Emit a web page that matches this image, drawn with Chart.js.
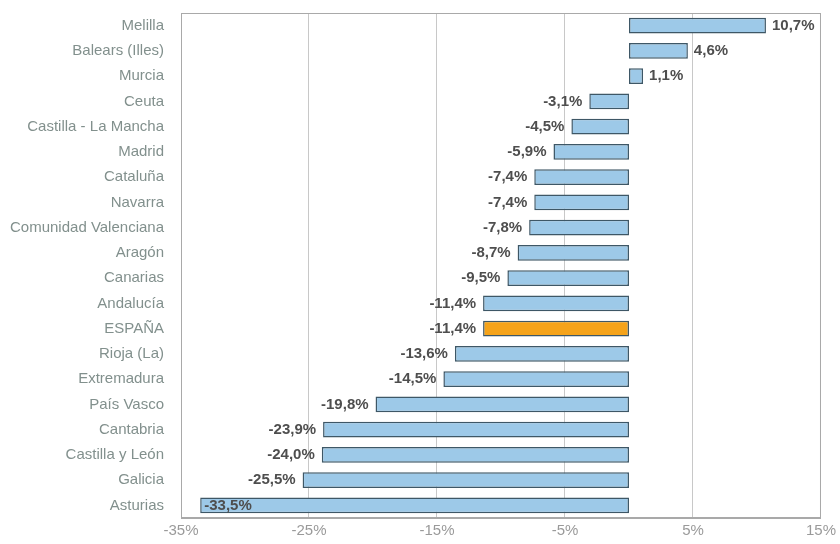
<!DOCTYPE html>
<html>
<head>
<meta charset="utf-8">
<script src="https://cdn.jsdelivr.net/npm/chart.js@4.4.1/dist/chart.umd.min.js"></script>
<style>
  html, body { margin: 0; padding: 0; background: #ffffff; }
  #wrap { width: 840px; height: 544px; }
</style>
</head>
<body>
<div id="wrap"><canvas id="chart1"></canvas></div>
<script>
const regions = [
    'Melilla', 'Balears (Illes)', 'Murcia', 'Ceuta', 'Castilla - La Mancha',
    'Madrid', 'Cataluña', 'Navarra', 'Comunidad Valenciana', 'Aragón',
    'Canarias', 'Andalucía', 'ESPAÑA', 'Rioja (La)', 'Extremadura',
    'País Vasco', 'Cantabria', 'Castilla y León', 'Galicia', 'Asturias'
];
const changes = [
    10.7, 4.6, 1.1, -3.1, -4.5,
    -5.9, -7.4, -7.4, -7.8, -8.7,
    -9.5, -11.4, -11.4, -13.6, -14.5,
    -19.8, -23.9, -24.0, -25.5, -33.5
];
const tickValues = [-35, -25, -15, -5, 5, 15];
const highlighted = 'ESPAÑA';

const fmt = (v) => v.toFixed(1).replace('.', ',') + '%';

// frame around the plot area
const frame = {
    id: 'frame',
    afterDraw(chart) {
        const { ctx, chartArea } = chart;
        ctx.save();
        ctx.strokeStyle = '#a9a9a9';
        ctx.lineWidth = 1;
        ctx.strokeRect(chartArea.left + 0.5, chartArea.top + 0.5,
            chartArea.right - chartArea.left - 1, chartArea.bottom - chartArea.top - 1);
        ctx.restore();
    }
};

// value labels next to the bar ends
const valueLabels = {
    id: 'valueLabels',
    afterDatasetsDraw(chart) {
        const { ctx, chartArea } = chart;
        const bars = chart.getDatasetMeta(0).data;
        ctx.save();
        ctx.font = 'bold 15px "Liberation Sans", Arial, sans-serif';
        ctx.fillStyle = '#4e4e4e';
        ctx.textBaseline = 'middle';
        bars.forEach((bar, i) => {
            const v = changes[i];
            const text = fmt(v);
            const w = ctx.measureText(text).width;
            if (v >= 0) {
                ctx.textAlign = 'left';
                ctx.fillText(text, bar.x + 6, bar.y);
            } else if (bar.x - 7 - w < chartArea.left) {
                // no room on the left: put it inside the bar
                ctx.textAlign = 'left';
                ctx.fillText(text, bar.x + 4, bar.y);
            } else {
                ctx.textAlign = 'right';
                ctx.fillText(text, bar.x - 7, bar.y);
            }
        });
        ctx.restore();
    }
};

new Chart(document.getElementById('chart1'), {
    type: 'bar',
    data: {
        labels: regions,
        datasets: [{
            data: changes,
            backgroundColor: regions.map((r) => r === highlighted ? '#f5a31a' : '#9dc9e8'),
            borderColor: '#3e5766',
            borderWidth: 1.5,
            borderSkipped: false,
            barPercentage: 0.62,
            categoryPercentage: 1,
        }]
    },
    options: {
        indexAxis: 'y',
        responsive: true,
        maintainAspectRatio: false,
        animation: false,
        layout: {
            padding: { top: 13, right: 16, left: 0, bottom: 0 }
        },
        plugins: {
            legend: { display: false },
            tooltip: { enabled: false },
        },
        scales: {
            x: {
                min: -35,
                max: 15,
                afterBuildTicks: (scale) => {
                    scale.ticks = tickValues.map((v) => ({ value: v }));
                },
                afterFit: (scale) => { scale.height = 26; },
                ticks: {
                    color: '#9a9a9a',
                    font: { family: '"Liberation Sans", Arial, sans-serif', size: 15 },
                    padding: 4,
                    maxRotation: 0,
                    callback: (v) => v + '%',
                },
                grid: {
                    color: '#c8c8c8',
                    drawTicks: false,
                },
                border: { color: '#a9a9a9' },
            },
            y: {
                afterFit: (scale) => {
                    scale.width = 181;
                    scale.paddingTop = 0;
                    scale.paddingBottom = 0;
                },
                ticks: {
                    color: '#82908d',
                    font: { family: '"Liberation Sans", Arial, sans-serif', size: 15 },
                    padding: 9,
                    autoSkip: false,
                },
                grid: { display: false },
                border: { color: '#a9a9a9' },
            },
        },
    },
    plugins: [frame, valueLabels],
});
</script>
</body>
</html>
